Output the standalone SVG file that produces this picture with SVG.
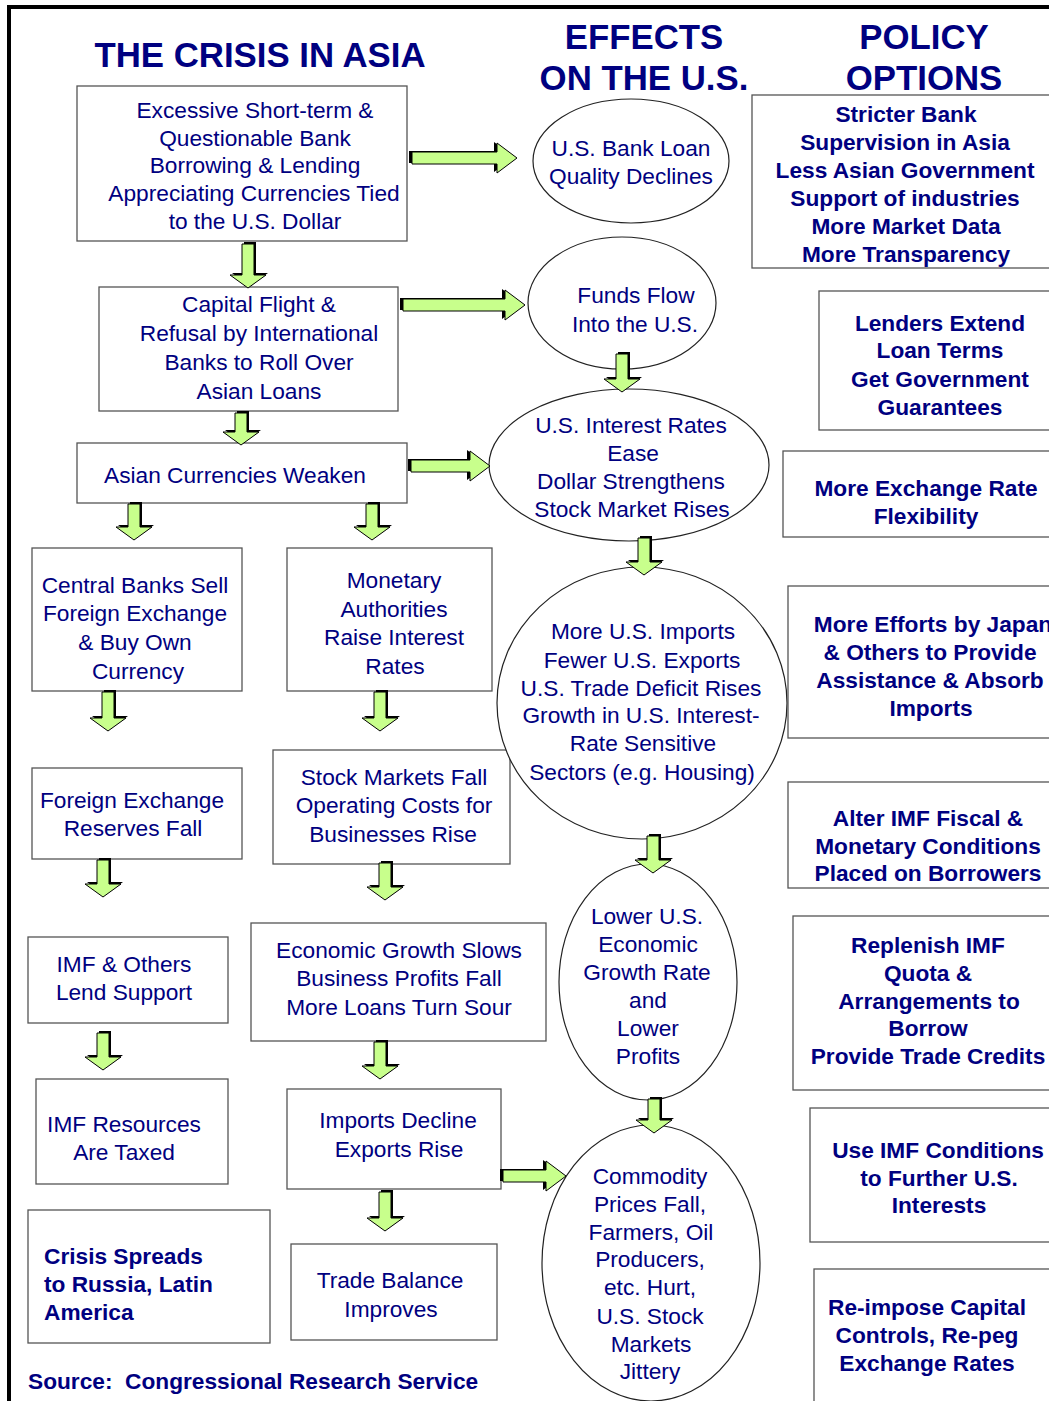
<svg xmlns="http://www.w3.org/2000/svg" width="1049" height="1401" viewBox="0 0 1049 1401">
<style>
.t{font-family:"Liberation Sans",Arial,sans-serif;fill:#000080;font-size:22.7px;text-anchor:middle}
.b{font-weight:bold}
.h{font-family:"Liberation Sans",Arial,sans-serif;fill:#000080;font-size:34.8px;font-weight:bold;text-anchor:middle}
.bx{fill:#fff;stroke:#555;stroke-width:1.3}
.el{fill:#fff;stroke:#222;stroke-width:1.2}
.ar{fill:#c8ff8c;stroke:#000;stroke-width:1}
.sh{fill:#000}
</style>
<rect width="1049" height="1401" fill="#fff"/>
<g id="frame">
<line x1="9" y1="5" x2="9" y2="1401" stroke="#000" stroke-width="4"/>
<line x1="7" y1="7" x2="1049" y2="7" stroke="#000" stroke-width="4"/>
</g>
<g id="titles">
<text class="h" x="260" y="67">THE CRISIS IN ASIA</text>
<text class="h" x="644" y="49">EFFECTS</text>
<text class="h" x="644" y="90">ON THE U.S.</text>
<text class="h" x="924" y="49">POLICY</text>
<text class="h" x="924" y="90">OPTIONS</text>
</g>
<g id="boxA"><rect class="bx" x="77" y="86" width="330" height="155"/>
<text class="t" x="255" y="118">Excessive Short-term &amp;</text>
<text class="t" x="255" y="146">Questionable Bank</text>
<text class="t" x="255" y="173">Borrowing &amp; Lending</text>
<text class="t" x="254" y="201">Appreciating Currencies Tied</text>
<text class="t" x="255" y="229">to the U.S. Dollar</text></g>
<g id="boxB"><rect class="bx" x="99" y="287" width="299" height="124"/>
<text class="t" x="259" y="312">Capital Flight &amp;</text>
<text class="t" x="259" y="341">Refusal by International</text>
<text class="t" x="259" y="370">Banks to Roll Over</text>
<text class="t" x="259" y="399">Asian Loans</text></g>
<g id="boxC"><rect class="bx" x="77" y="443" width="330" height="60"/>
<text class="t" x="235" y="483">Asian Currencies Weaken</text></g>
<g id="boxD"><rect class="bx" x="32" y="548" width="210" height="143"/>
<text class="t" x="135" y="593">Central Banks Sell</text>
<text class="t" x="135" y="621">Foreign Exchange</text>
<text class="t" x="135" y="650">&amp; Buy Own</text>
<text class="t" x="138" y="679">Currency</text></g>
<g id="boxE"><rect class="bx" x="287" y="548" width="205" height="143"/>
<text class="t" x="394" y="588">Monetary</text>
<text class="t" x="394" y="617">Authorities</text>
<text class="t" x="394" y="645">Raise Interest</text>
<text class="t" x="395" y="674">Rates</text></g>
<g id="boxF"><rect class="bx" x="32" y="768" width="210" height="91"/>
<text class="t" x="132" y="808">Foreign Exchange</text>
<text class="t" x="133" y="836">Reserves Fall</text></g>
<g id="boxG"><rect class="bx" x="273" y="750" width="237" height="114"/>
<text class="t" x="394" y="785">Stock Markets Fall</text>
<text class="t" x="394" y="813">Operating Costs for</text>
<text class="t" x="393" y="842">Businesses Rise</text></g>
<g id="boxH"><rect class="bx" x="28" y="937" width="200" height="86"/>
<text class="t" x="124" y="972">IMF &amp; Others</text>
<text class="t" x="124" y="1000">Lend Support</text></g>
<g id="boxI"><rect class="bx" x="251" y="923" width="295" height="118"/>
<text class="t" x="399" y="958">Economic Growth Slows</text>
<text class="t" x="399" y="986">Business Profits Fall</text>
<text class="t" x="399" y="1015">More Loans Turn Sour</text></g>
<g id="boxJ"><rect class="bx" x="36" y="1079" width="192" height="105"/>
<text class="t" x="124" y="1132">IMF Resources</text>
<text class="t" x="124" y="1160">Are Taxed</text></g>
<g id="boxK"><rect class="bx" x="287" y="1089" width="214" height="100"/>
<text class="t" x="398" y="1128">Imports Decline</text>
<text class="t" x="399" y="1157">Exports Rise</text></g>
<g id="boxL"><rect class="bx" x="28" y="1210" width="242" height="133"/>
<text class="t b" style="text-anchor:start" x="44" y="1264">Crisis Spreads</text>
<text class="t b" style="text-anchor:start" x="44" y="1292">to Russia, Latin</text>
<text class="t b" style="text-anchor:start" x="44" y="1320">America</text></g>
<g id="boxM"><rect class="bx" x="291" y="1244" width="206" height="96"/>
<text class="t" x="390" y="1288">Trade Balance</text>
<text class="t" x="391" y="1317">Improves</text></g>
<g id="ell1"><ellipse class="el" cx="631" cy="161" rx="98" ry="62"/>
<text class="t" x="631" y="156">U.S. Bank Loan</text>
<text class="t" x="631" y="184">Quality Declines</text></g>
<g id="ell2"><ellipse class="el" cx="622" cy="303" rx="94" ry="66"/>
<text class="t" x="636" y="303">Funds Flow</text>
<text class="t" x="635" y="332">Into the U.S.</text></g>
<g id="ell3"><ellipse class="el" cx="629" cy="465" rx="140" ry="76"/>
<text class="t" x="631" y="433">U.S. Interest Rates</text>
<text class="t" x="633" y="461">Ease</text>
<text class="t" x="631" y="489">Dollar Strengthens</text>
<text class="t" x="632" y="517">Stock Market Rises</text></g>
<g id="ell4"><ellipse class="el" cx="642" cy="703" rx="145" ry="136"/>
<text class="t" x="643" y="639">More U.S. Imports</text>
<text class="t" x="642" y="668">Fewer U.S. Exports</text>
<text class="t" x="641" y="696">U.S. Trade Deficit Rises</text>
<text class="t" x="641" y="723">Growth in U.S. Interest-</text>
<text class="t" x="643" y="751">Rate Sensitive</text>
<text class="t" x="642" y="780">Sectors (e.g. Housing)</text></g>
<g id="ell5"><ellipse class="el" cx="648" cy="982" rx="89" ry="118"/>
<text class="t" x="647" y="924">Lower U.S.</text>
<text class="t" x="648" y="952">Economic</text>
<text class="t" x="647" y="980">Growth Rate</text>
<text class="t" x="648" y="1008">and</text>
<text class="t" x="648" y="1036">Lower</text>
<text class="t" x="648" y="1064">Profits</text></g>
<g id="ell6"><ellipse class="el" cx="651" cy="1263" rx="109" ry="138"/>
<text class="t" x="650" y="1184">Commodity</text>
<text class="t" x="650" y="1212">Prices Fall,</text>
<text class="t" x="651" y="1240">Farmers, Oil</text>
<text class="t" x="650" y="1267">Producers,</text>
<text class="t" x="650" y="1295">etc. Hurt,</text>
<text class="t" x="650" y="1324">U.S. Stock</text>
<text class="t" x="651" y="1352">Markets</text>
<text class="t" x="650" y="1379">Jittery</text></g>
<g id="pol1"><rect class="bx" x="752" y="95" width="310" height="173"/>
<text class="t b" x="906" y="122">Stricter Bank</text>
<text class="t b" x="905" y="150">Supervision in Asia</text>
<text class="t b" x="905" y="178">Less Asian Government</text>
<text class="t b" x="905" y="206">Support of industries</text>
<text class="t b" x="906" y="234">More Market Data</text>
<text class="t b" x="906" y="262">More Transparency</text></g>
<g id="pol2"><rect class="bx" x="819" y="291" width="243" height="139"/>
<text class="t b" x="940" y="331">Lenders Extend</text>
<text class="t b" x="940" y="358">Loan Terms</text>
<text class="t b" x="940" y="387">Get Government</text>
<text class="t b" x="940" y="415">Guarantees</text></g>
<g id="pol3"><rect class="bx" x="783" y="451" width="279" height="86"/>
<text class="t b" x="926" y="496">More Exchange Rate</text>
<text class="t b" x="926" y="524">Flexibility</text></g>
<g id="pol4"><rect class="bx" x="788" y="586" width="274" height="152"/>
<text class="t b" x="933" y="632">More Efforts by Japan</text>
<text class="t b" x="930" y="660">&amp; Others to Provide</text>
<text class="t b" x="930" y="688">Assistance &amp; Absorb</text>
<text class="t b" x="931" y="716">Imports</text></g>
<g id="pol5"><rect class="bx" x="788" y="782" width="274" height="106"/>
<text class="t b" x="928" y="826">Alter IMF Fiscal &amp;</text>
<text class="t b" x="928" y="854">Monetary Conditions</text>
<text class="t b" x="928" y="881">Placed on Borrowers</text></g>
<g id="pol6"><rect class="bx" x="793" y="916" width="269" height="174"/>
<text class="t b" x="928" y="953">Replenish IMF</text>
<text class="t b" x="928" y="981">Quota &amp;</text>
<text class="t b" x="929" y="1009">Arrangements to</text>
<text class="t b" x="928" y="1036">Borrow</text>
<text class="t b" x="928" y="1064">Provide Trade Credits</text></g>
<g id="pol7"><rect class="bx" x="810" y="1108" width="252" height="134"/>
<text class="t b" x="938" y="1158">Use IMF Conditions</text>
<text class="t b" x="939" y="1186">to Further U.S.</text>
<text class="t b" x="939" y="1213">Interests</text></g>
<g id="pol8"><rect class="bx" x="814" y="1269" width="248" height="140"/>
<text class="t b" x="927" y="1315">Re-impose Capital</text>
<text class="t b" x="927" y="1343">Controls, Re-peg</text>
<text class="t b" x="927" y="1371">Exchange Rates</text></g>
<g id="source"><text class="t b" style="text-anchor:start" x="28" y="1389" xml:space="preserve">Source:  Congressional Research Service</text></g>
<g id="connectors">
<path class="sh" transform="translate(-3,-1)" d="M412,152 H497 V143 L517,158 L497,173 V164 H412 Z"/>
<path class="ar" d="M412,152 H497 V143 L517,158 L497,173 V164 H412 Z"/>
<path class="sh" transform="translate(-3,-1)" d="M403,299 H505 V290 L525,305 L505,320 V311 H403 Z"/>
<path class="ar" d="M403,299 H505 V290 L525,305 L505,320 V311 H403 Z"/>
<path class="sh" transform="translate(-3,-1)" d="M411,460 H470 V451 L490,466 L470,481 V472 H411 Z"/>
<path class="ar" d="M411,460 H470 V451 L490,466 L470,481 V472 H411 Z"/>
<path class="sh" transform="translate(-3,-1)" d="M503,1170 H546 V1161 L566,1176 L546,1191 V1182 H503 Z"/>
<path class="ar" d="M503,1170 H546 V1161 L566,1176 L546,1191 V1182 H503 Z"/>
<g transform="translate(2,-2)">
<path class="sh" d="M242,244 H254 V275 H266 L248,288 L230,275 H242 Z"/>
<path class="sh" d="M235,413 H247 V432 H259 L241,445 L223,432 H235 Z"/>
<path class="sh" d="M128,504 H140 V527 H152 L134,540 L116,527 H128 Z"/>
<path class="sh" d="M366,504 H378 V527 H390 L372,540 L354,527 H366 Z"/>
<path class="sh" d="M102,692 H114 V718 H126 L108,731 L90,718 H102 Z"/>
<path class="sh" d="M374,692 H386 V718 H398 L380,731 L362,718 H374 Z"/>
<path class="sh" d="M97,860 H109 V884 H121 L103,897 L85,884 H97 Z"/>
<path class="sh" d="M379,863 H391 V887 H403 L385,900 L367,887 H379 Z"/>
<path class="sh" d="M97,1033 H109 V1057 H121 L103,1070 L85,1057 H97 Z"/>
<path class="sh" d="M374,1042 H386 V1066 H398 L380,1079 L362,1066 H374 Z"/>
<path class="sh" d="M379,1192 H391 V1218 H403 L385,1231 L367,1218 H379 Z"/>
<path class="sh" d="M616,354 H628 V379 H640 L622,392 L604,379 H616 Z"/>
<path class="sh" d="M638,538 H650 V562 H662 L644,575 L626,562 H638 Z"/>
<path class="sh" d="M647,836 H659 V860 H671 L653,873 L635,860 H647 Z"/>
<path class="sh" d="M648,1099 H660 V1120 H672 L654,1133 L636,1120 H648 Z"/>
</g>
<path class="ar" d="M242,244 H254 V275 H266 L248,288 L230,275 H242 Z"/>
<path class="ar" d="M235,413 H247 V432 H259 L241,445 L223,432 H235 Z"/>
<path class="ar" d="M128,504 H140 V527 H152 L134,540 L116,527 H128 Z"/>
<path class="ar" d="M366,504 H378 V527 H390 L372,540 L354,527 H366 Z"/>
<path class="ar" d="M102,692 H114 V718 H126 L108,731 L90,718 H102 Z"/>
<path class="ar" d="M374,692 H386 V718 H398 L380,731 L362,718 H374 Z"/>
<path class="ar" d="M97,860 H109 V884 H121 L103,897 L85,884 H97 Z"/>
<path class="ar" d="M379,863 H391 V887 H403 L385,900 L367,887 H379 Z"/>
<path class="ar" d="M97,1033 H109 V1057 H121 L103,1070 L85,1057 H97 Z"/>
<path class="ar" d="M374,1042 H386 V1066 H398 L380,1079 L362,1066 H374 Z"/>
<path class="ar" d="M379,1192 H391 V1218 H403 L385,1231 L367,1218 H379 Z"/>
<path class="ar" d="M616,354 H628 V379 H640 L622,392 L604,379 H616 Z"/>
<path class="ar" d="M638,538 H650 V562 H662 L644,575 L626,562 H638 Z"/>
<path class="ar" d="M647,836 H659 V860 H671 L653,873 L635,860 H647 Z"/>
<path class="ar" d="M648,1099 H660 V1120 H672 L654,1133 L636,1120 H648 Z"/>
</g>
</svg>
